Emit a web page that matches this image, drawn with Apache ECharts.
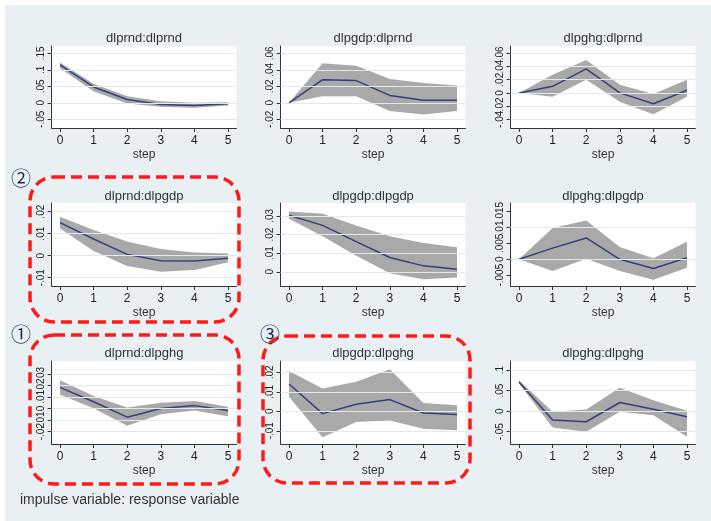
<!DOCTYPE html>
<html><head><meta charset="utf-8">
<script src="https://cdn.jsdelivr.net/npm/echarts@6/dist/echarts.min.js"></script>
<style>
html,body{margin:0;padding:0;background:#fff;}
#bg{position:absolute;left:5px;top:5px;width:706px;height:516px;background:#e9f0f3;}
#c{position:absolute;left:0;top:0;width:711px;height:521px;}
</style>
</head><body><div id="bg"></div><div id="c"></div>
<script>
// ---- data ----
const steps = [0, 1, 2, 3, 4, 5];
const titles = ['dlprnd:dlprnd', 'dlpgdp:dlprnd', 'dlpghg:dlprnd',
                'dlprnd:dlpgdp', 'dlpgdp:dlpgdp', 'dlpghg:dlpgdp',
                'dlprnd:dlpghg', 'dlpgdp:dlpghg', 'dlpghg:dlpghg'];

const irf_rnd_rnd = [0.115, 0.048, 0.010, -0.005, -0.008, -0.003];
const lo_rnd_rnd  = [0.105, 0.035, -0.002, -0.012, -0.015, -0.008];
const hi_rnd_rnd  = [0.122, 0.058, 0.020, 0.005, 0.000, 0.002];

const irf_gdp_rnd = [0, 0.028, 0.027, 0.009, 0.003, 0.003];
const lo_gdp_rnd  = [0, 0.008, 0.008, -0.010, -0.014, -0.010];
const hi_gdp_rnd  = [0, 0.048, 0.045, 0.029, 0.024, 0.021];

const irf_ghg_rnd = [0, 0.010, 0.0365, 0, -0.0165, 0.004];
const lo_ghg_rnd  = [0, -0.006, 0.020, -0.0135, -0.0325, -0.006];
const hi_ghg_rnd  = [0, 0.0275, 0.050, 0.0125, -0.0015, 0.020];

const irf_rnd_gdp = [0.0150, 0.0076, 0.0006, -0.0023, -0.0024, -0.0012];
const lo_rnd_gdp  = [0.0124, 0.0021, -0.0047, -0.0073, -0.0065, -0.0030];
const hi_rnd_gdp  = [0.0177, 0.0117, 0.0064, 0.0030, 0.0015, 0.0010];

const irf_gdp_gdp = [0.0303, 0.0249, 0.0162, 0.0077, 0.0032, 0.0014];
const lo_gdp_gdp  = [0.0285, 0.0191, 0.0086, -0.0007, -0.0040, -0.0030];
const hi_gdp_gdp  = [0.0324, 0.0312, 0.0249, 0.0191, 0.0155, 0.0132];

const irf_ghg_gdp = [0, 0.0035, 0.0067, 0, -0.0029, 0.0005];
const lo_ghg_gdp  = [0, -0.0037, 0.0002, -0.0037, -0.0064, -0.0027];
const hi_ghg_gdp  = [0, 0.0098, 0.0122, 0.0039, 0.0003, 0.0055];

const irf_rnd_ghg = [0.0183, 0.0058, -0.0075, 0, 0.0025, -0.0018];
const lo_rnd_ghg  = [0.0120, 0.0003, -0.0150, -0.0050, -0.0018, -0.0068];
const hi_rnd_ghg  = [0.0245, 0.0108, 0.0008, 0.0050, 0.0065, 0.0015];

const irf_gdp_ghg = [0.0140, -0.0012, 0.0036, 0.0060, -0.0009, -0.0016];
const lo_gdp_ghg  = [0.0074, -0.0133, -0.0055, -0.0047, -0.0090, -0.0098];
const hi_gdp_ghg  = [0.0207, 0.0117, 0.0152, 0.0216, 0.0043, 0.0031];

const irf_ghg_ghg = [0.071, -0.0218, -0.0258, 0.021, 0.0048, -0.0137];
const lo_ghg_ghg  = [0.067, -0.0395, -0.050, -0.0016, -0.0097, -0.062];
const hi_ghg_ghg  = [0.075, -0.0016, 0.004, 0.057, 0.0266, 0.0008];

const yTicks1 = [-0.05, 0, 0.05, 0.1, 0.15];
const yTicks2 = [-0.02, 0, 0.02, 0.04, 0.06];
const yTicks3 = [-0.04, -0.02, 0, 0.02, 0.04, 0.06];
const yTicks4 = [-0.01, 0, 0.01, 0.02];
const yTicks5 = [0, 0.01, 0.02, 0.03];
const yTicks6 = [-0.005, 0, 0.005, 0.01, 0.015];
const yTicks7 = [-0.02, -0.01, 0, 0.01, 0.02, 0.03];
const yTicks8 = [-0.01, 0, 0.01, 0.02];
const yTicks9 = [-0.05, 0, 0.05, 0.1];

const noteText = 'impulse variable: response variable';

// ---- layout / styling ----
const panels = [
  {irf: irf_rnd_rnd, lo: lo_rnd_rnd, hi: hi_rnd_rnd, ticks: yTicks1, range: [-0.0764, 0.1721]},
  {irf: irf_gdp_rnd, lo: lo_gdp_rnd, hi: hi_gdp_rnd, ticks: yTicks2, range: [-0.0305, 0.0689]},
  {irf: irf_ghg_rnd, lo: lo_ghg_rnd, hi: hi_ghg_rnd, ticks: yTicks3, range: [-0.0532, 0.0711]},
  {irf: irf_rnd_gdp, lo: lo_rnd_gdp, hi: hi_rnd_gdp, ticks: yTicks4, range: [-0.01377, 0.02395]},
  {irf: irf_gdp_gdp, lo: lo_gdp_gdp, hi: hi_gdp_gdp, ticks: yTicks5, range: [-0.0076, 0.0369]},
  {irf: irf_ghg_gdp, lo: lo_ghg_gdp, hi: hi_ghg_gdp, ticks: yTicks6, range: [-0.0084, 0.0177]},
  {irf: irf_rnd_ghg, lo: lo_rnd_ghg, hi: hi_rnd_ghg, ticks: yTicks7, range: [-0.0307, 0.0411]},
  {irf: irf_gdp_ghg, lo: lo_gdp_ghg, hi: hi_gdp_ghg, ticks: yTicks8, range: [-0.0168, 0.0258]},
  {irf: irf_ghg_ghg, lo: lo_ghg_ghg, hi: hi_ghg_ghg, ticks: yTicks9, range: [-0.0799, 0.1219]}
];
const colLeft = [51.6, 280.6, 510.6];
const colWidth = 184.8;
const rowTop = [46, 203, 361];
const rowHeight = [82, 83, 83];
const titleTop = [32, 190, 347];
const FONT = '"Liberation Sans", Arial, sans-serif';
const AXIS = '#333';

function fmt(v) {
  let s = String(+(+v).toFixed(4));
  return s.replace(/^(-?)0\./, '$1.');
}

const grid = [], xAxis = [], yAxis = [], series = [], title = [];
panels.forEach((p, i) => {
  const r = Math.floor(i / 3), c = i % 3;
  grid.push({left: colLeft[c], top: rowTop[r], width: colWidth, height: rowHeight[r],
             show: true, backgroundColor: '#fff', borderWidth: 0});
  title.push({text: titles[i], left: colLeft[c] + colWidth / 2, top: titleTop[r], textAlign: 'center',
              padding: 0, textStyle: {fontSize: 13, fontWeight: 'normal', color: '#333', fontFamily: FONT}});
  xAxis.push({gridIndex: i, type: 'value', min: -0.25, max: 5.25,
    name: 'step', nameLocation: 'middle', nameGap: 21,
    nameTextStyle: {fontSize: 12, color: '#333', fontFamily: FONT},
    axisLine: {show: true, onZero: false, lineStyle: {color: AXIS, width: 1}},
    axisTick: {show: true, length: 4, customValues: steps, lineStyle: {color: AXIS}},
    axisLabel: {customValues: steps, interval: 0, margin: 7, fontSize: 12, color: '#222', fontFamily: FONT, hideOverlap: false},
    splitLine: {show: false}});
  // two y axes per panel (alternating labels) so that crowded labels are all drawn
  const evenT = p.ticks.filter((t, k) => k % 2 === 0);
  const oddT = p.ticks.filter((t, k) => k % 2 === 1);
  const labelBase = {interval: 0, rotate: 90, margin: 5, fontSize: 10, color: '#222',
                     fontFamily: FONT, formatter: fmt, hideOverlap: false, showMinLabel: true, showMaxLabel: true};
  yAxis.push({gridIndex: i, type: 'value', min: p.range[0], max: p.range[1], position: 'left',
    axisLine: {show: true, onZero: false, lineStyle: {color: AXIS, width: 1}},
    axisTick: {show: true, length: 4, customValues: p.ticks, lineStyle: {color: AXIS}},
    axisLabel: Object.assign({customValues: evenT}, labelBase),
    splitLine: {show: false}});
  yAxis.push({gridIndex: i, type: 'value', min: p.range[0], max: p.range[1], position: 'left', offset: 0,
    axisLine: {show: false, onZero: false},
    axisTick: {show: false, length: 4, customValues: oddT},
    axisLabel: Object.assign({customValues: oddT}, labelBase),
    splitLine: {show: false}});
  const base = {xAxisIndex: i, yAxisIndex: 2 * i, silent: true, animation: false};
  series.push(Object.assign({}, base, {
    type: 'line', symbol: 'none',
    name: 'grid' + i, data: steps.map(s => [s, null]), z: 1,
    markLine: {silent: true, symbol: 'none', label: {show: false}, animation: false,
      lineStyle: {color: '#e1e9ec', width: 1, type: 'solid'},
      data: p.ticks.map(t => ({yAxis: t}))}
  }));
  series.push(Object.assign({}, base, {
    type: 'custom', name: 'ci' + i, z: 2,
    data: steps.map((s, k) => [s, p.lo[k], p.hi[k]]),
    encode: {x: 0, y: [1, 2]},
    renderItem: function (params, api) {
      if (params.dataIndex !== 0) return null;
      const pts = [];
      for (let k = 0; k < steps.length; k++) pts.push(api.coord([steps[k], p.hi[k]]));
      for (let k = steps.length - 1; k >= 0; k--) pts.push(api.coord([steps[k], p.lo[k]]));
      return {type: 'polygon', shape: {points: pts}, style: {fill: '#a9a9a9', stroke: null}};
    }
  }));
  series.push(Object.assign({}, base, {
    type: 'line', symbol: 'none',
    name: 'irf' + i, data: steps.map((s, k) => [s, p.irf[k]]),
    lineStyle: {color: '#363f78', width: 1.5}, z: 3
  }));
});

const RED = '#ff1a1a';
function box(x, y, w, h) {
  return {type: 'rect', z: 100, silent: true, shape: {x: x, y: y, width: w, height: h, r: 24},
          style: {fill: 'none', stroke: RED, lineWidth: 3.5, lineDash: [11, 6]}};
}
function circ(x, y, t) {
  return {type: 'text', z: 101, x: x, y: y, silent: true,
          style: {text: t, fill: '#1b2a55', font: '20px "Noto Sans CJK SC", sans-serif',
                  align: 'center', verticalAlign: 'middle'}};
}

const chart = echarts.init(document.getElementById('c'), null, {renderer: 'canvas'});
chart.setOption({
  animation: false,
  backgroundColor: 'transparent',
  title: title, grid: grid, xAxis: xAxis, yAxis: yAxis, series: series,
  graphic: [
    box(30, 177, 209, 145),
    box(30, 335, 209, 149),
    box(263, 336, 207, 147),
    circ(21, 178, '②'),
    circ(21, 334, '①'),
    circ(270, 334, '③'),
    {type: 'text', z: 101, x: 20, y: 500, silent: true,
     style: {text: noteText, fill: '#333', font: '14px "Liberation Sans", Arial, sans-serif',
             align: 'left', verticalAlign: 'middle'}}
  ]
});
</script>
</body></html>
